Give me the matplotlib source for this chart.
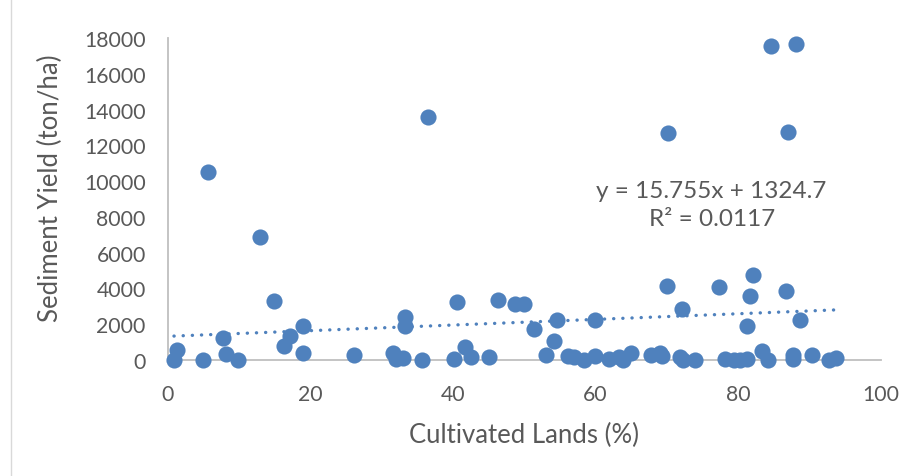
import matplotlib
matplotlib.use("Agg")
import matplotlib.pyplot as plt
from matplotlib.lines import Line2D

# Share of cultivated land (%) per watershed
cultivated = [0.84, 1.32, 4.97, 5.57, 7.78, 8.14, 9.88, 12.87, 14.84, 16.25,
              17.13, 18.95, 18.95, 26.07, 31.58, 32.06, 32.99, 33.32, 33.23, 35.61,
              36.45, 40.10, 40.57, 41.75, 42.49, 45.00, 46.25, 48.74, 49.96, 51.43,
              53.00, 54.13, 54.56, 56.11, 57.05, 58.45, 59.90, 59.90, 61.90, 63.27,
              63.87, 64.95, 67.76, 69.12, 69.40, 70.07, 70.14, 71.87, 72.15, 72.29,
              73.93, 77.27, 78.14, 79.48, 80.25, 81.30, 81.30, 81.65, 82.07, 83.30,
              84.28, 84.60, 86.80, 86.95, 87.65, 87.65, 88.15, 88.67, 90.45, 92.74,
              93.77]

# Sediment yield (ton/ha) per watershed
sediment = [20, 576, 10, 10510, 1213, 335, 20, 6875, 3315, 766,
            1325, 1884, 375, 296, 391, 56, 112, 2420, 1917, 17,
            13583, 56, 3259, 699, 140, 179, 3343, 3158, 3158, 1733,
            307, 1079, 2247, 240, 184, 10, 2247, 207, 56, 168,
            10, 380, 252, 380, 207, 4153, 12672, 184, 2851, 10,
            10, 4064, 56, 11, 10, 28, 1900, 3561, 4751, 503,
            10, 17535, 3840, 12728, 280, 28, 17663, 2247, 280, 10,
            100]

# Linear trendline coefficients
slope = 15.755
intercept = 1324.7
r_squared = 0.0117

x_ticks = [0, 20, 40, 60, 80, 100]
y_ticks = [0, 2000, 4000, 6000, 8000, 10000, 12000, 14000, 16000, 18000]

blue = "#4F81BD"
text_grey = "#595959"
axis_grey = "#BFBFBF"

plt.rcParams['font.family'] = ['Lato', 'DejaVu Sans']

W, H = 917, 477
fig = plt.figure(figsize=(W / 100, H / 100), dpi=100)
ax = fig.add_axes([168 / W, 1 - 361 / H, (880.5 - 168) / W, (361 - 39) / H])
ax.set_xlim(0, 100)
ax.set_ylim(0, 18000)

ax.scatter(cultivated, sediment, s=135, color=blue, linewidths=0, zorder=3,
           clip_on=False)

x_fit = [min(cultivated), max(cultivated)]
y_fit = [slope * x + intercept for x in x_fit]
ax.plot(x_fit, y_fit, color=blue, lw=2.4, ls=(0, (0.05, 2.7)),
        dash_capstyle='round', zorder=2)

ax.text(76.3, 8700, f"y = {slope}x + {intercept}\nR\u00b2 = {r_squared}",
        ha='center', va='center', fontsize=17.5, color=text_grey,
        linespacing=1.45)

ax.set_xticks(x_ticks)
ax.set_yticks(y_ticks)
ax.tick_params(length=0, labelsize=15.3, labelcolor=text_grey)
ax.tick_params(axis='x', pad=17)
ax.tick_params(axis='y', pad=16)

for side in ('top', 'right'):
    ax.spines[side].set_visible(False)
for side in ('left', 'bottom'):
    ax.spines[side].set_color(axis_grey)
    ax.spines[side].set_linewidth(1.3)

fig.text(50 / W, 1 - 188 / H, "Sediment Yield (ton/ha)", rotation=90,
         ha='center', va='center', fontsize=18.5, color=text_grey)
fig.text(524 / W, 1 - 435 / H, "Cultivated Lands (%)",
         ha='center', va='center', fontsize=18.5, color=text_grey)

# chart area border on the left edge
fig.add_artist(Line2D([10.5 / W, 10.5 / W], [0, 1], transform=fig.transFigure,
                      color="#D9D9D9", lw=1))

fig.savefig("out.png", dpi=100)
